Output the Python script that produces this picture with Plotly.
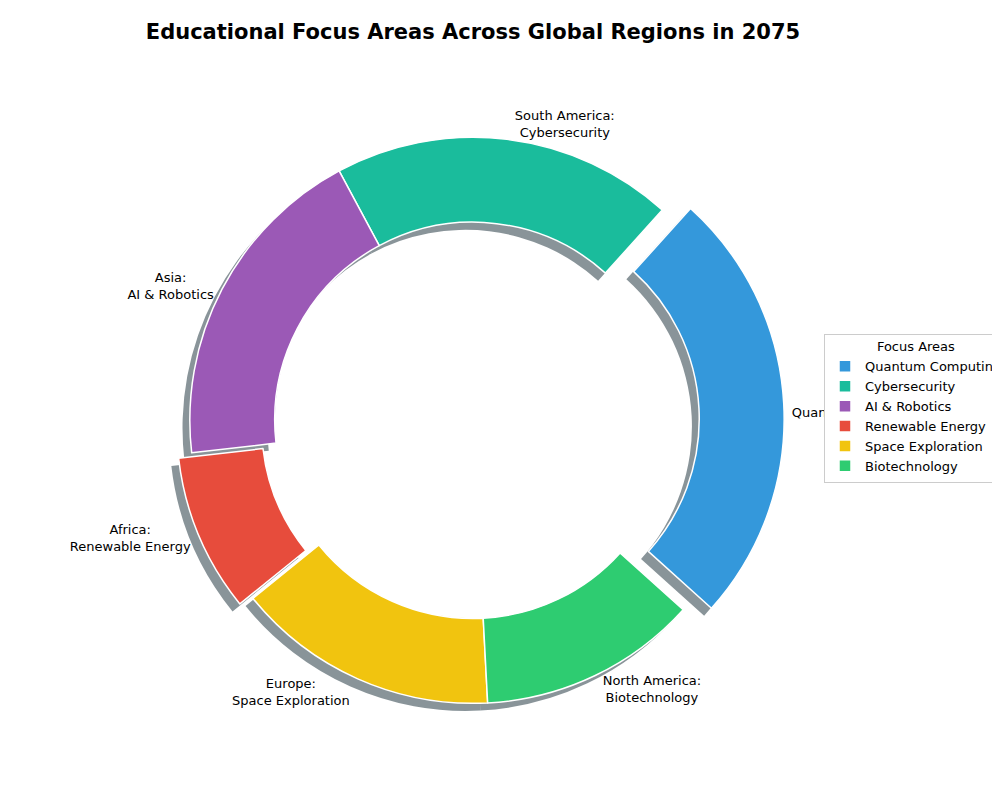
import plotly.graph_objects as go

# data
regions = ["Oceania", "South America", "Asia", "Africa", "Europe", "North America"]
focus_areas = ["Quantum Computing", "Cybersecurity", "AI & Robotics",
               "Renewable Energy", "Space Exploration", "Biotechnology"]
shares = [25, 19.5, 19, 9, 15, 12.5]
colors = ["#3498db", "#1abc9c", "#9b59b6", "#e74c3c", "#f1c40f", "#2ecc71"]
pulls = [0.1, 0, 0, 0.05, 0, 0]

labels_text = [f"{r}:<br>{f}" for r, f in zip(regions, focus_areas)]

dom_x = [0.109, 0.791]
dom_y = [0.0475, 0.92]
rot = 42

fig = go.Figure()

# fake shadow, a grey copy slightly down-left
fig.add_trace(go.Pie(
    labels=[f"s{i}" for i in range(len(shares))], values=shares, sort=False,
    direction="counterclockwise", rotation=rot, hole=0.7, pull=pulls,
    marker=dict(colors=["rgba(40,60,70,0.55)"] * len(shares), line=dict(width=0)),
    textinfo="none", hoverinfo="skip", showlegend=False,
    domain=dict(x=[dom_x[0] - 0.008, dom_x[1] - 0.008],
                y=[dom_y[0] - 0.01, dom_y[1] - 0.01]),
))

fig.add_trace(go.Pie(
    labels=focus_areas, values=shares, sort=False,
    direction="counterclockwise", rotation=rot, hole=0.7, pull=pulls,
    marker=dict(colors=colors, line=dict(color="white", width=1.5)),
    text=labels_text, textinfo="text", textposition="outside",
    textfont=dict(size=13, color="black"),
    domain=dict(x=dom_x, y=dom_y),
))

fig.update_layout(
    width=1000, height=800,
    paper_bgcolor="white",
    font=dict(family="DejaVu Sans", color="black"),
    margin=dict(l=0, r=0, t=0, b=0),
    title=dict(text="<b>Educational Focus Areas Across Global Regions in 2075</b>",
               x=0.465, xanchor="center", y=0.97, yanchor="middle",
               font=dict(size=21, color="black")),
    legend=dict(title=dict(text="Focus Areas", side="top center", font=dict(size=13)),
                x=0.835, y=0.5, xanchor="left", yanchor="middle",
                bordercolor="#cccccc", borderwidth=1, font=dict(size=13, color="black")),
)

fig.write_html("out.html")
